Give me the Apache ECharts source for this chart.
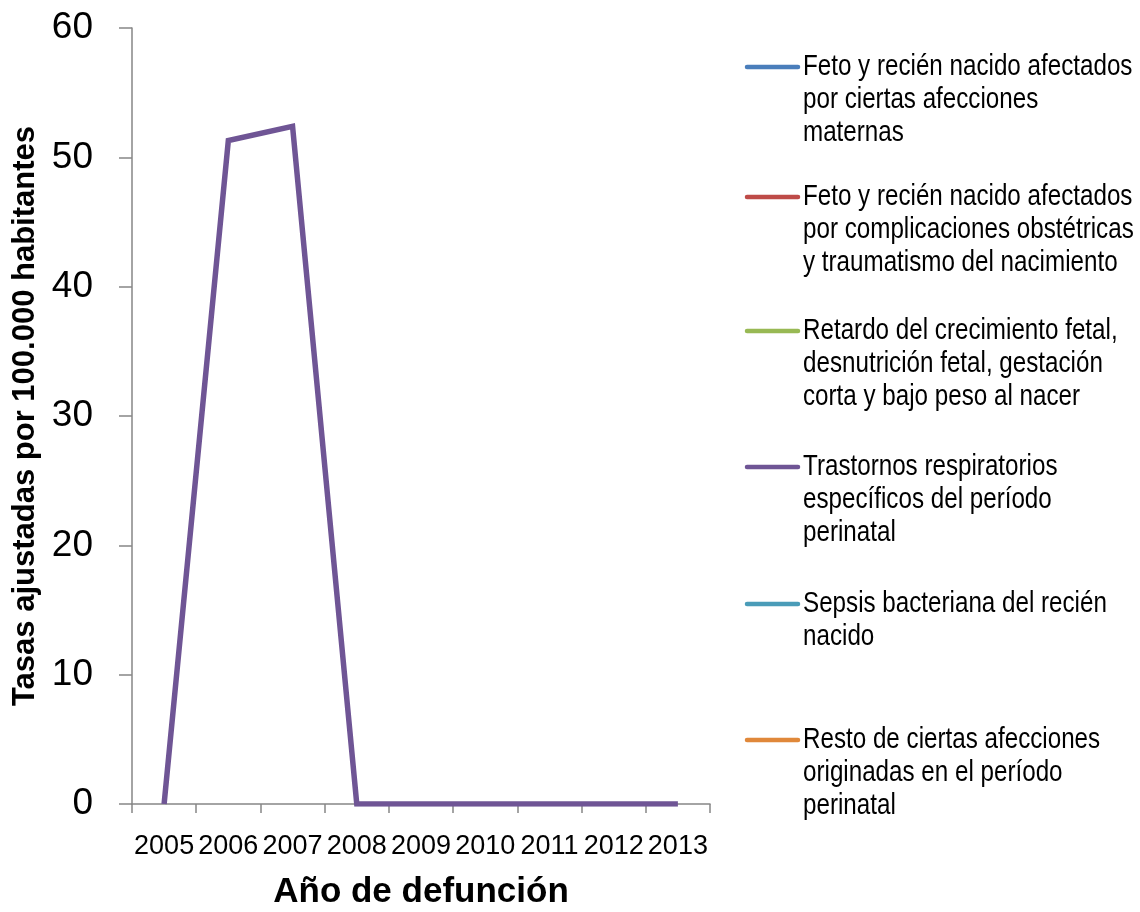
<!DOCTYPE html>
<html>
<head>
<meta charset="utf-8">
<script src="https://cdn.jsdelivr.net/npm/echarts@6/dist/echarts.min.js"></script>
<style>
  html, body { margin: 0; padding: 0; background: #fff; }
  #chart { width: 1140px; height: 912px; }
</style>
</head>
<body>
<div id="chart"></div>
<script>
// Years of death (category axis)
const years = ['2005', '2006', '2007', '2008', '2009', '2010', '2011', '2012', '2013'];

// Series names (legend order)
const seriesNames = [
  'Feto y recién nacido afectados por ciertas afecciones maternas',
  'Feto y recién nacido afectados por complicaciones obstétricas y traumatismo del nacimiento',
  'Retardo del crecimiento fetal, desnutrición fetal, gestación corta y bajo peso al nacer',
  'Trastornos respiratorios específicos del período perinatal',
  'Sepsis bacteriana del recién nacido',
  'Resto de ciertas afecciones originadas en el período perinatal'
];

// Legend text, broken into lines
const legendLines = [
  ['Feto y recién nacido afectados', 'por ciertas afecciones', 'maternas'],
  ['Feto y recién nacido afectados', 'por complicaciones obstétricas', 'y traumatismo del nacimiento'],
  ['Retardo del crecimiento fetal,', 'desnutrición fetal, gestación', 'corta y bajo peso al nacer'],
  ['Trastornos respiratorios', 'específicos del período', 'perinatal'],
  ['Sepsis bacteriana del recién', 'nacido'],
  ['Resto de ciertas afecciones', 'originadas en el período', 'perinatal']
];

// Adjusted rates per 100,000 inhabitants (null = no data)
const maternas      = [null, null, null, null, null, null, null, null, null];
const obstetricas   = [null, null, null, null, null, null, null, null, null];
const retardo       = [null, null, null, null, null, null, null, null, null];
const respiratorios = [0, 51.3, 52.4, 0, 0, 0, 0, 0, 0];
const sepsis        = [null, null, null, null, null, null, null, null, null];
const resto         = [null, null, null, null, null, null, null, null, null];

// Y axis ticks
const yMin = 0, yMax = 60, yStep = 10;

const seriesData = [maternas, obstetricas, retardo, respiratorios, sepsis, resto];
const colors = ['#4A7EBB', '#BE4B48', '#98B954', '#6F5595', '#4A9CB8', '#E0883A'];

const FONT = "'Liberation Sans', Arial, sans-serif";
const AXIS_GREY = '#868686';

// Legend: a short coloured key line next to a condensed multi-line label
const LINE_H = 33;
const legendKeyY = [67, 197, 331, 467, 604, 740];
const legendGraphics = [];
seriesNames.forEach((name, i) => {
  legendGraphics.push({
    type: 'line',
    shape: { x1: 747, y1: legendKeyY[i], x2: 798, y2: legendKeyY[i] },
    style: { stroke: colors[i], lineWidth: 4.5, lineCap: 'round' },
    silent: true
  });
  legendGraphics.push({
    type: 'text',
    x: 803,
    y: legendKeyY[i] - LINE_H / 2,
    scaleX: 0.82,
    style: {
      text: legendLines[i].join('\n'),
      fontFamily: FONT,
      fontSize: 29.5,
      lineHeight: LINE_H,
      fill: '#000',
      align: 'left',
      verticalAlign: 'top'
    },
    silent: true
  });
});

const chart = echarts.init(document.getElementById('chart'), null, { renderer: 'canvas' });
chart.setOption({
  animation: false,
  backgroundColor: '#fff',
  color: colors,
  grid: { left: 132, right: 430, top: 28, bottom: 108, containLabel: false, outerBoundsMode: 'none' },
  xAxis: {
    type: 'category',
    data: years,
    boundaryGap: true,
    name: 'Año de defunción',
    nameLocation: 'middle',
    nameGap: 71,
    nameTextStyle: { fontFamily: FONT, fontSize: 35, fontWeight: 'bold', color: '#000' },
    axisLine: { show: true, lineStyle: { color: AXIS_GREY, width: 1.5 } },
    axisTick: { show: true, inside: false, length: 9, alignWithLabel: false, interval: 0, lineStyle: { color: AXIS_GREY, width: 1.5 } },
    axisLabel: { interval: 0, margin: 29, fontFamily: FONT, fontSize: 27, color: '#000' },
    splitLine: { show: false }
  },
  yAxis: {
    type: 'value',
    min: yMin,
    max: yMax,
    interval: yStep,
    name: 'Tasas ajustadas por 100.000 habitantes',
    nameLocation: 'middle',
    nameRotate: 90,
    nameGap: 81,
    nameTextStyle: { fontFamily: FONT, fontSize: 31, fontWeight: 'bold', color: '#000' },
    axisLine: { show: true, lineStyle: { color: AXIS_GREY, width: 1.5 } },
    axisTick: { show: true, inside: false, length: 13, lineStyle: { color: AXIS_GREY, width: 1.5 } },
    axisLabel: { margin: 39, fontFamily: FONT, fontSize: 37, color: '#000' },
    splitLine: { show: false }
  },
  graphic: legendGraphics,
  series: seriesNames.map((name, i) => ({
    name: name,
    type: 'line',
    data: seriesData[i],
    symbol: 'none',
    showSymbol: false,
    connectNulls: false,
    lineStyle: { width: 5.5, color: colors[i], join: 'miter' },
    itemStyle: { color: colors[i] }
  }))
});
</script>
</body>
</html>
